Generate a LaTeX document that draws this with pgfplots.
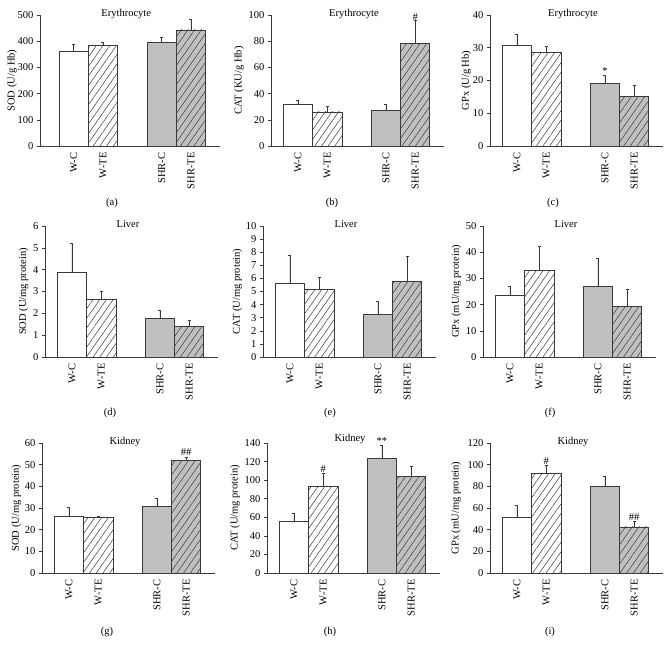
\documentclass[border=0pt]{standalone}
\usepackage{fontspec}
\setmainfont{Liberation Serif}
\usepackage{pgfplots}
\pgfplotsset{compat=1.18}
\usetikzlibrary{patterns.meta}
\definecolor{edge}{HTML}{3A3A3A}
\definecolor{shr}{HTML}{C0C0C0}
\newcommand{\fs}{\fontsize{10.5}{12}\selectfont}
\tikzset{sig/.style={anchor=south, inner sep=0.8pt, font=\fs}}
\pgfplotsset{
 panel/.style={
  scale only axis, height=131pt,
  xmax=4.98, ymin=0,
  axis lines=left, axis line style={edge, line width=0.8pt, -},
  xtick={0,1,3,4}, xticklabels={W-C,W-TE,SHR-C,SHR-TE},
  xtick style={draw=none},
  xticklabel style={rotate=90, anchor=east, font=\fs},
  yticklabel style={font=\fs},
  ytick style={edge, line width=0.6pt},
  tick align=outside, major tick length=3pt,
  ylabel style={font=\fs}, ylabel shift=-2pt,
  title style={font=\fs, at={(axis description cs:0.48,1)}, anchor=base, yshift=-7.5pt},
  /pgf/number format/assume math mode=true,
  bar width=1,
  error bars/y dir=plus, error bars/y explicit,
  error bars/error bar style={edge, line width=0.6pt},
  error bars/error mark options={rotate=90, mark size=1.5pt, edge, line width=0.6pt},
  clip=false,
 },
 wc/.style={ybar, bar shift=0pt, draw=edge, line width=0.8pt, fill=white},
 wte/.style={ybar, bar shift=0pt, draw=edge, line width=0.8pt, fill=white,
   postaction={pattern={Lines[angle=55,distance=5.5pt,line width=0.5pt]}, pattern color=edge}},
 sc/.style={ybar, bar shift=0pt, draw=edge, line width=0.8pt, fill=shr},
 ste/.style={ybar, bar shift=0pt, draw=edge, line width=0.8pt, fill=shr,
   postaction={pattern={Lines[angle=55,distance=5.5pt,line width=0.5pt]}, pattern color=edge}},
}
\begin{document}
\begin{tikzpicture}
\useasboundingbox (0,0) rectangle (669pt,-653pt);
% (a)
\begin{axis}[panel, at={(40pt,-146pt)}, anchor=south west, width=179.6pt, xmin=-1.15,
  ymax=500, ytick={0,100,...,500}, ylabel={SOD (U/g Hb)}, title={Erythrocyte}, ylabel shift=-6pt]
\addplot[wc] coordinates {(0,362) +- (0,28)};
\addplot[wte] coordinates {(1,385) +- (0,11)};
\addplot[sc] coordinates {(3,397) +- (0,19)};
\addplot[ste] coordinates {(4,443) +- (0,39)};
\end{axis}
% (b)
\begin{axis}[panel, at={(271pt,-146pt)}, anchor=south west, width=172.9pt, xmin=-0.92,
  ymax=100, ytick={0,20,...,100}, ylabel={CAT (KU/g Hb)}, title={Erythrocyte}]
\addplot[wc] coordinates {(0,31.6) +- (0,3.4)};
\addplot[wte] coordinates {(1,26) +- (0,4)};
\addplot[sc] coordinates {(3,27) +- (0,5)};
\addplot[ste] coordinates {(4,78.5) +- (0,17.5)};
\node[sig] at (axis cs:4,95) {\#};
\end{axis}
% (c)
\begin{axis}[panel, at={(490pt,-146pt)}, anchor=south west, width=172.9pt, xmin=-0.92,
  ymax=40, ytick={0,10,...,40}, ylabel={GPx (U/g Hb)}, title={Erythrocyte}, ylabel shift=-5pt]
\addplot[wc] coordinates {(0,30.6) +- (0,3.4)};
\addplot[wte] coordinates {(1,28.7) +- (0,1.8)};
\addplot[sc] coordinates {(3,19.2) +- (0,2.4)};
\addplot[ste] coordinates {(4,15.2) +- (0,3.3)};
\node[sig] at (axis cs:3,21.6) {*};
\end{axis}
% (d)
\begin{axis}[panel, at={(45pt,-357pt)}, anchor=south west, width=172.9pt, xmin=-0.92,
  ymax=6, ytick={0,1,...,6}, ylabel={SOD (U/mg protein)}, title={Liver}, ylabel shift=-2pt]
\addplot[wc] coordinates {(0,3.87) +- (0,1.33)};
\addplot[wte] coordinates {(1,2.62) +- (0,0.41)};
\addplot[sc] coordinates {(3,1.75) +- (0,0.4)};
\addplot[ste] coordinates {(4,1.4) +- (0,0.26)};
\end{axis}
% (e)
\begin{axis}[panel, at={(263pt,-357pt)}, anchor=south west, width=172.9pt, xmin=-0.92,
  ymax=10, ytick={0,1,...,10}, ylabel={CAT (U/mg protein)}, title={Liver}, ylabel shift=-3pt]
\addplot[wc] coordinates {(0,5.63) +- (0,2.11)};
\addplot[wte] coordinates {(1,5.13) +- (0,0.96)};
\addplot[sc] coordinates {(3,3.27) +- (0,1.02)};
\addplot[ste] coordinates {(4,5.76) +- (0,1.9)};
\end{axis}
% (f)
\begin{axis}[panel, at={(483pt,-357pt)}, anchor=south west, width=172.9pt, xmin=-0.92,
  ymax=50, ytick={0,10,...,50}, ylabel={GPx (mU/mg protein)}, title={Liver}]
\addplot[wc] coordinates {(0,23.5) +- (0,3.4)};
\addplot[wte] coordinates {(1,33.2) +- (0,9.1)};
\addplot[sc] coordinates {(3,26.9) +- (0,10.8)};
\addplot[ste] coordinates {(4,19.3) +- (0,6.6)};
\end{axis}
% (g)
\begin{axis}[panel, at={(42pt,-573pt)}, anchor=south west, width=172.9pt, height=130pt, xmin=-0.92,
  ymax=60, ytick={0,10,...,60}, ylabel={SOD (U/mg protein)}, title={Kidney}, ylabel shift=-3pt]
\addplot[wc] coordinates {(0,26) +- (0,4.2)};
\addplot[wte] coordinates {(1,25.6) +- (0,0.7)};
\addplot[sc] coordinates {(3,30.6) +- (0,3.9)};
\addplot[ste] coordinates {(4,52) +- (0,1.6)};
\node[sig] at (axis cs:4,53.6) {\#\#};
\end{axis}
% (h)
\begin{axis}[panel, at={(267pt,-573pt)}, anchor=south west, width=172.9pt, height=130pt, xmin=-0.92,
  ymax=140, ytick={0,20,...,140}, ylabel={CAT (U/mg protein)}, title={Kidney},
  title style={yshift=3pt}]
\addplot[wc] coordinates {(0,55.4) +- (0,8.9)};
\addplot[wte] coordinates {(1,93.6) +- (0,13.4)};
\addplot[sc] coordinates {(3,123.6) +- (0,13.4)};
\addplot[ste] coordinates {(4,104.3) +- (0,10.7)};
\node[sig] at (axis cs:1,107) {\#};
\node[sig] at (axis cs:3,137) {**};
\end{axis}
% (i)
\begin{axis}[panel, at={(490pt,-573pt)}, anchor=south west, width=172.9pt, height=130pt, xmin=-0.92,
  ymax=120, ytick={0,20,...,120}, ylabel={GPx (mU/mg protein)}, title={Kidney}, ylabel shift=0pt]
\addplot[wc] coordinates {(0,51.4) +- (0,10.7)};
\addplot[wte] coordinates {(1,91.8) +- (0,7.7)};
\addplot[sc] coordinates {(3,79.9) +- (0,9.1)};
\addplot[ste] coordinates {(4,42.5) +- (0,5.2)};
\node[sig] at (axis cs:1,99.5) {\#};
\node[sig] at (axis cs:4,47.7) {\#\#};
\end{axis}
% captions
\node[font=\fs] at (112pt,-203pt) {(a)};
\node[font=\fs] at (332pt,-203pt) {(b)};
\node[font=\fs] at (553pt,-203pt) {(c)};
\node[font=\fs] at (110pt,-413pt) {(d)};
\node[font=\fs] at (330pt,-413pt) {(e)};
\node[font=\fs] at (550pt,-413pt) {(f)};
\node[font=\fs] at (107pt,-632pt) {(g)};
\node[font=\fs] at (330pt,-632pt) {(h)};
\node[font=\fs] at (550pt,-632pt) {(i)};
\end{tikzpicture}
\end{document}
